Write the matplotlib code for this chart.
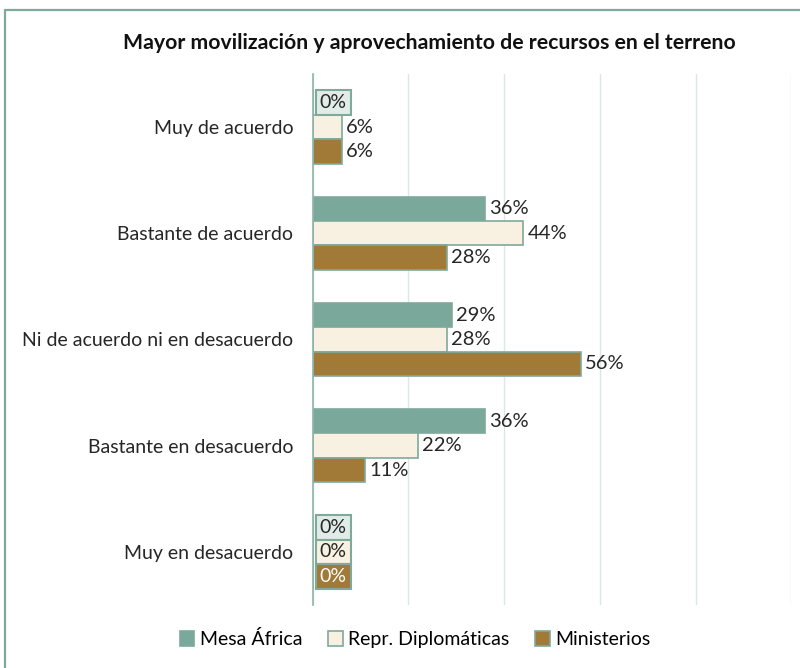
import matplotlib.pyplot as plt
import numpy as np
from matplotlib.patches import Rectangle

plt.rcParams["font.family"] = ["Lato", "DejaVu Sans"]

categories = [
    "Muy de acuerdo",
    "Bastante de acuerdo",
    "Ni de acuerdo ni en desacuerdo",
    "Bastante en desacuerdo",
    "Muy en desacuerdo",
]
series = ["Mesa África", "Repr. Diplomáticas", "Ministerios"]
mesa_africa = [0, 36, 29, 36, 0]
repr_diplomaticas = [6, 44, 28, 22, 0]
ministerios = [6, 28, 56, 11, 0]
title = "Mayor movilización y aprovechamiento de recursos en el terreno"

colors = ["#7aa89b", "#f8f1e1", "#a07a36"]
zero_fills = ["#e1ebe7", "#f8f1e1", "#a07a36"]
zero_text = ["#262626", "#262626", "#ffffff"]
edge = "#7fa99b"

fig = plt.figure(figsize=(8, 6.68), dpi=100)
ax = fig.add_axes([0.391, 0.0943, 0.598, 0.795])

y = np.arange(len(categories))
h = 0.23
values = [mesa_africa, repr_diplomaticas, ministerios]
for i, (name, vals) in enumerate(zip(series, values)):
    pos = y + (i - 1) * h
    ax.barh(pos, vals, height=h, color=colors[i], edgecolor=edge,
            linewidth=1.2, label=name, zorder=3)
    for p, v in zip(pos, vals):
        if v == 0:
            ax.annotate("0%", xy=(0, p), xytext=(5, 0), textcoords="offset points",
                        va="center", ha="left", fontsize=14, color=zero_text[i],
                        zorder=5,
                        bbox=dict(boxstyle="square,pad=0.2", fc=zero_fills[i],
                                  ec=edge, lw=1.5))
        else:
            ax.annotate(f"{v}%", xy=(v, p), xytext=(3, 0), textcoords="offset points",
                        va="center", ha="left", fontsize=14.5, color="#262626", zorder=5)

ax.set_xlim(0, 100)
ax.set_ylim(len(categories) - 0.5, -0.5)
ax.set_xticks([0, 20, 40, 60, 80, 100])
ax.set_xticklabels([])
ax.tick_params(axis="x", length=0)
ax.grid(axis="x", color="#dde7e3", linewidth=1, zorder=0)
ax.set_yticks(y)
ax.set_yticklabels(categories, fontsize=14, color="#262626")
ax.tick_params(axis="y", length=0, pad=14)
for side in ["top", "right", "bottom"]:
    ax.spines[side].set_visible(False)
ax.spines["left"].set_color("#8fb3a8")
ax.spines["left"].set_linewidth(1.2)
ax.spines["left"].set_zorder(4)

fig.text(0.537, 0.935, title, ha="center", va="center", fontsize=15.3,
         fontweight="bold", color="#111111")

handles, labels = ax.get_legend_handles_labels()
fig.legend(handles, labels, loc="center", bbox_to_anchor=(0.519, 0.043), ncol=3,
           frameon=False, fontsize=14, handlelength=0.75, handleheight=0.75,
           handletextpad=0.3, columnspacing=1.3)

fig.patches.append(Rectangle((5 / 800, -0.1), 1.2, 1 - 10 / 668 + 0.1,
                             transform=fig.transFigure, fill=False,
                             edgecolor="#7fa99b", linewidth=1.6))

fig.savefig("out.png", dpi=100)
